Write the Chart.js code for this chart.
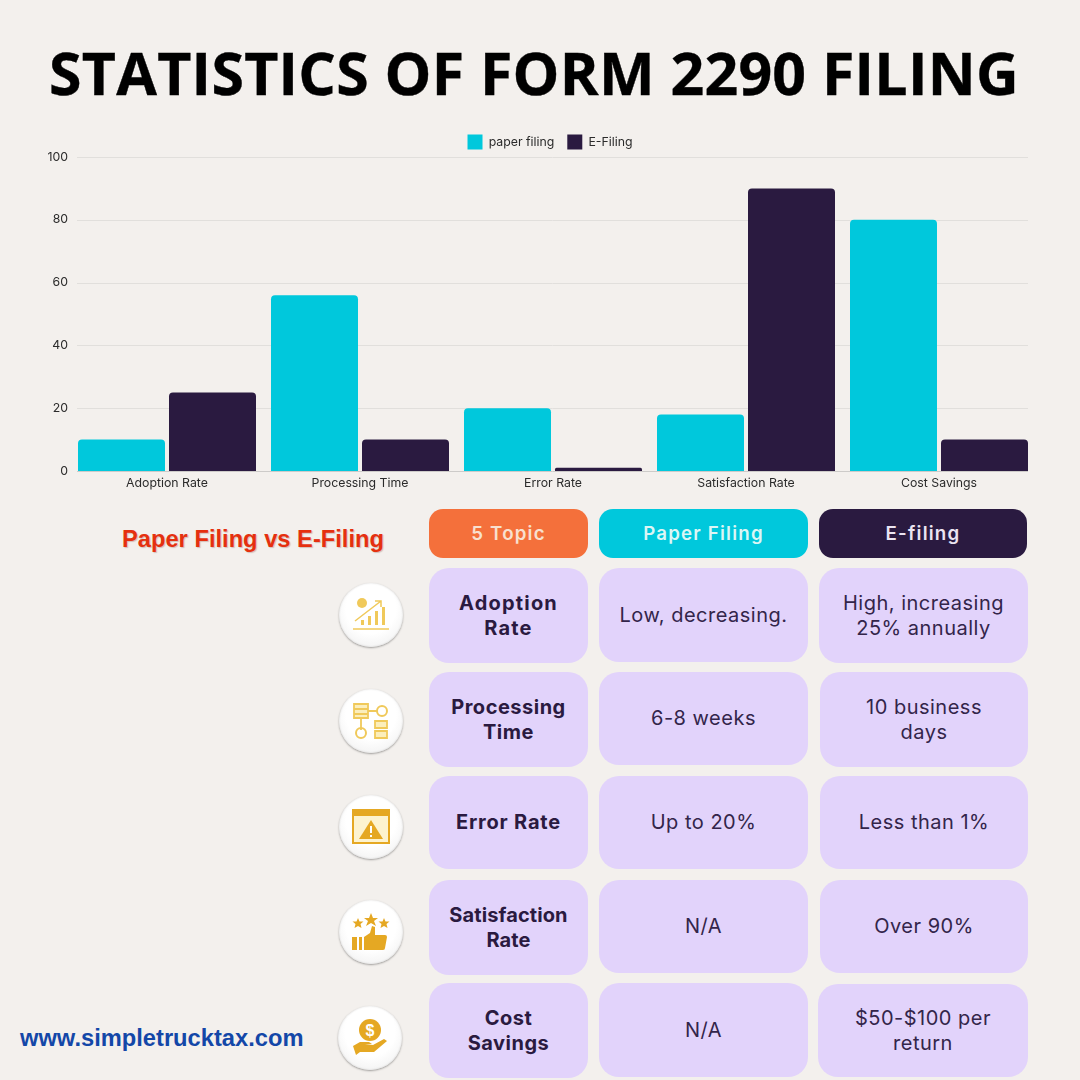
<!DOCTYPE html>
<html lang="en">
<head>
    <meta charset="UTF-8">
    <title>Statistics of Form 2290 Filing</title>
    <script src="https://cdn.jsdelivr.net/npm/chart.js"></script>
    <style>
        html, body { margin: 0; padding: 0; }
        body { width: 1080px; height: 1080px; background: #f3f0ed; position: relative; overflow: hidden; }
        h1 { position: absolute; left: 0; top: 33px; width: 1068px; margin: 0; text-align: center; font: 700 59px/78px "Open Sans", sans-serif; color: #000; letter-spacing: 0.25px; white-space: nowrap; -webkit-text-stroke: 0.4px #000; }
        #chartBox { position: absolute; left: 0; top: 119px; width: 1080px; height: 381px; }
        .side { position: absolute; font-family: "Liberation Sans", sans-serif; font-weight: 700; white-space: nowrap; }
        #subtitle { left: 122px; top: 524px; font-size: 23.7px; line-height: 30px; color: #e5300f; text-shadow: 1px 1px 1px rgba(120,40,20,.25); }
        #site { left: 20px; top: 1023px; font-size: 23.7px; line-height: 30px; color: #1347a8; }
        .cell { position: absolute; display: flex; align-items: center; justify-content: center; text-align: center; box-sizing: border-box; font-family: "Inter", sans-serif; color: #2a1a40; background: #e2d3fb; border-radius: 20px; white-space: pre-line; }
        .head { border-radius: 14px; font-size: 18.7px; font-weight: 600; letter-spacing: 1.2px; }
        .topic { font-size: 20px; font-weight: 700; line-height: 25px; }
        .val { font-size: 20px; font-weight: 400; letter-spacing: 0.5px; line-height: 25px; color: #33254a; }
        .icon { position: absolute; width: 64px; height: 64px; border-radius: 50%; background: radial-gradient(circle at 50% 40%, #ffffff 50%, #ebebeb 100%); box-shadow: 0 1px 2px rgba(0,0,0,.35), inset 0 0 2px rgba(0,0,0,.15); }
        .icon svg { position: absolute; left: 12px; top: 12px; width: 40px; height: 40px; }
    </style>
</head>
<body>
    <h1>STATISTICS OF FORM 2290 FILING</h1>
    <div id="chartBox"><canvas id="filingChart"></canvas></div>
    <div id="subtitle" class="side">Paper Filing vs E-Filing</div>
    <div id="site" class="side">www.simpletrucktax.com</div>
    <div id="table"></div>

    <script>
        // Chart data
        const categories = ['Adoption Rate', 'Processing Time', 'Error Rate', 'Satisfaction Rate', 'Cost Savings'];
        const paperValues = [10, 56, 20, 18, 80];
        const efileValues = [25, 10, 1, 90, 10];
        const seriesNames = ['paper filing', 'E-Filing'];

        // Table text
        const headers = ['5 Topic', 'Paper Filing', 'E-filing'];
        const topics = ['Adoption\nRate', 'Processing\nTime', 'Error Rate', 'Satisfaction\nRate', 'Cost\nSavings'];
        const paperText = ['Low, decreasing.', '6-8 weeks', 'Up to 20%', 'N/A', 'N/A'];
        const efileText = ['High, increasing\n25% annually', '10 business\ndays', 'Less than 1%', 'Over 90%', '$50-$100 per\nreturn'];

        const CYAN = '#00c8dc';
        const DARK = '#2a1a40';
        const FONT = 'Inter, sans-serif';

        // Layout of the table: [x, y, w, h] for each box
        const headBoxes = [[429, 509, 159, 49], [599, 509, 209, 49], [819, 509, 208, 49]];
        const topicBoxes = [[429, 568, 159, 95], [429, 672, 159, 95], [429, 776, 159, 93], [429, 880, 159, 95], [429, 983, 159, 95]];
        const paperBoxes = [[599, 568, 209, 94], [599, 672, 209, 93], [599, 776, 209, 93], [599, 880, 209, 93], [599, 983, 209, 94]];
        const efileBoxes = [[819, 568, 209, 95], [820, 672, 208, 95], [820, 776, 208, 93], [820, 880, 208, 93], [818, 984, 210, 93]];
        const iconCenters = [[371, 615], [371, 721], [371, 827], [371, 932], [370, 1038]];
        const headColors = ['#f4703b', CYAN, DARK];
        const headTextColors = ['#f8e0cf', '#dcf6f5', '#ebe4f2'];
        const topicTracking = [1.2, 0.5, 0.8, 0.1, 0.5];

        const G = '#f0c95a';
        const Y = '#e5a823';
        const iconSvgs = [
            `<circle cx="11" cy="8" r="5" fill="${G}"/><path d="M4 26 L30 6 M24 6h6v6" stroke="${G}" stroke-width="1.5" fill="none"/><path d="M10 30h3v-5h-3zM17 30h3v-9h-3zM24 30h3v-14h-3zM31 30h3v-18h-3z" fill="${G}"/><path d="M2 34h36" stroke="${G}" stroke-width="1.5"/>`,
            `<path d="M3 3h14v14H3z M3 8h14 M3 13h14 M10 17v12 M17 10h9" stroke="${G}" stroke-width="1.8" fill="#fbeebc"/><circle cx="31" cy="10" r="5" fill="none" stroke="${G}" stroke-width="2"/><circle cx="10" cy="32" r="5" fill="none" stroke="${G}" stroke-width="2"/><path d="M24 20h12v7H24zM24 30h12v7H24z" fill="#fbeebc" stroke="${G}" stroke-width="1.8"/>`,
            `<rect x="2" y="3" width="36" height="33" fill="#fdf3cf" stroke="${Y}" stroke-width="2"/><rect x="2" y="3" width="36" height="6" fill="${Y}"/><path d="M20 13 L32 32 H8 Z" fill="${Y}"/><path d="M20 19v7M20 28v2" stroke="#fff" stroke-width="2"/>`,
            `<path d="M20 1l2 5h5l-4 3 2 5-5-3-5 3 2-5-4-3h5zM7 6l1.500 3.500h4l-3 2.500 1 4-3.500-2-3.500 2 1-4-3-2.500h4zM33 6l1.500 3.500h4l-3 2.500 1 4-3.500-2-3.500 2 1-4-3-2.500h4z" fill="${Y}"/><path d="M1 25h5v13H1zM8 25h3v13H8zM13 25l6-4 2-7 3 1 0 8h10a2 2 0 0 1 2 2l-2 11a2 2 0 0 1-2 2H13z" fill="${Y}"/>`,
            `<circle cx="20" cy="12" r="11" fill="${Y}"/><text x="20" y="18" font-size="16" font-weight="700" text-anchor="middle" fill="#fff" font-family="Liberation Sans">$</text><path d="M3 28l7-4h9l3 2h-7l8 1 11-6 3 2-13 11H10l-4 3z" fill="${Y}"/>`
        ];

        function addCell(box, text, cls) {
            const el = document.createElement('div');
            el.className = 'cell ' + cls;
            el.style.cssText = `left:${box[0]}px;top:${box[1]}px;width:${box[2]}px;height:${box[3]}px;`;
            el.textContent = text;
            document.getElementById('table').appendChild(el);
            return el;
        }

        headers.forEach((h, i) => {
            const el = addCell(headBoxes[i], h, 'head');
            el.style.background = headColors[i];
            el.style.color = headTextColors[i];
        });
        topics.forEach((t, i) => {
            addCell(topicBoxes[i], t, 'topic').style.letterSpacing = topicTracking[i] + 'px';
            addCell(paperBoxes[i], paperText[i], 'val');
            addCell(efileBoxes[i], efileText[i], 'val');
            const icon = document.createElement('div');
            icon.className = 'icon';
            icon.style.left = (iconCenters[i][0] - 32) + 'px';
            icon.style.top = (iconCenters[i][1] - 32) + 'px';
            icon.innerHTML = `<svg viewBox="0 0 40 40">${iconSvgs[i]}</svg>`;
            document.getElementById('table').appendChild(icon);
        });

        // Gridlines stop at the outer bar edges, narrower than the category band.
        // The legend is centred on the page and sits closer to the plot than the default.
        const chartTweaks = {
            id: 'chartTweaks',
            afterLayout(chart) {
                chart.legend.left = 0;
                chart.legend.right = 1100;
                chart.legend.top += 2.5;
            },
            beforeDatasetsDraw(chart) {
                const y = chart.scales.y;
                const ctx = chart.ctx;
                ctx.save();
                y.ticks.forEach((tick, i) => {
                    const py = Math.round(y.getPixelForTick(i)) + 0.5;
                    ctx.strokeStyle = tick.value === 0 ? '#cdcbc9' : '#e1dfdc';
                    ctx.lineWidth = 1;
                    ctx.beginPath();
                    ctx.moveTo(77, py);
                    ctx.lineTo(1028, py);
                    ctx.stroke();
                });
                ctx.restore();
            }
        };

        new Chart(document.getElementById('filingChart').getContext('2d'), {
            type: 'bar',
            data: {
                labels: categories,
                datasets: [
                    { label: seriesNames[0], data: paperValues, backgroundColor: CYAN, borderRadius: { topLeft: 4, topRight: 4 }, borderSkipped: 'bottom' },
                    { label: seriesNames[1], data: efileValues, backgroundColor: DARK, borderRadius: { topLeft: 4, topRight: 4 }, borderSkipped: 'bottom' }
                ]
            },
            options: {
                responsive: true,
                maintainAspectRatio: false,
                animation: false,
                devicePixelRatio: 1,
                layout: { padding: { left: 0, right: 44.5, top: 0, bottom: 0 } },
                scales: {
                    x: {
                        grid: { display: false, drawTicks: false },
                        border: { display: false },
                        ticks: { color: '#2b2b2b', font: { family: FONT, size: 12.3 }, padding: 5, maxRotation: 0, autoSkip: false },
                        afterFit(scale) { scale.height = 29; }
                    },
                    y: {
                        min: 0,
                        max: 100,
                        grid: { display: false, drawTicks: false },
                        border: { display: false },
                        ticks: { stepSize: 20, color: '#2b2b2b', font: { family: FONT, size: 12.3 }, padding: 2.5 },
                        afterFit(scale) { scale.width = 70.5; }
                    }
                },
                datasets: { bar: { categoryPercentage: 0.943, barPercentage: 0.956 } },
                plugins: {
                    legend: {
                        position: 'top',
                        labels: { boxWidth: 15, boxHeight: 15, color: '#2b2b2b', font: { family: FONT, size: 12.3 }, padding: 13 }
                    },
                    tooltip: { enabled: false }
                }
            },
            plugins: [chartTweaks]
        });
    </script>
</body>
</html>
